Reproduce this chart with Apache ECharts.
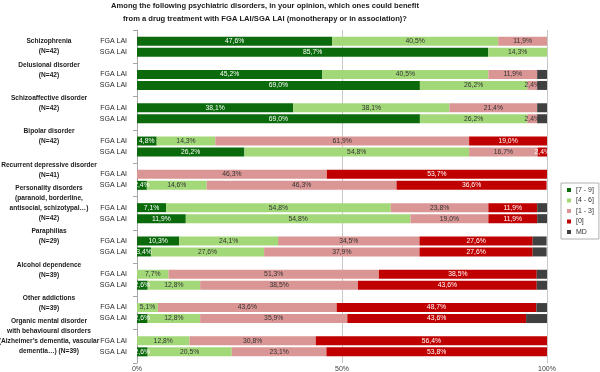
<!DOCTYPE html>
<html>
<head>
<meta charset="utf-8">
<script src="https://cdn.jsdelivr.net/npm/echarts@6/dist/echarts.min.js"></script>
<style>html,body{margin:0;padding:0;background:#fff}#c{width:600px;height:372px}</style>
</head>
<body>
<div id="c"></div>
<script>
const categories = [
  'Schizophrenia\n(N=42)',
  'Delusional disorder\n(N=42)',
  'Schizoaffective disorder\n(N=42)',
  'Bipolar disorder\n(N=42)',
  'Recurrent depressive disorder\n(N=41)',
  'Personality disorders\n(paranoid, borderline,\nantisocial, schizotypal…)\n(N=42)',
  'Paraphilias\n(N=29)',
  'Alcohol dependence\n(N=39)',
  'Other addictions\n(N=39)',
  'Organic mental disorder\nwith behavioural disorders\n(Alzheimer’s dementia, vascular\ndementia…) (N=39)'
];
const scoreClasses = ['[7 - 9]', '[4 - 6]', '[1 - 3]', '[0]', 'MD'];
const rowNames = ['FGA LAI', 'SGA LAI'];
const xTicks = [0, 50, 100];

const fga79 = [47.6, 45.2, 38.1, 4.8, 0, 7.1, 10.3, 0, 0, 0];
const fga46 = [40.5, 40.5, 38.1, 14.3, 0, 54.8, 24.1, 7.7, 5.1, 12.8];
const fga13 = [11.9, 11.9, 21.4, 61.9, 46.3, 23.8, 34.5, 51.3, 43.6, 30.8];
const fga0  = [0, 0, 0, 19.0, 53.7, 11.9, 27.6, 38.5, 48.7, 56.4];
const fgaMD = [0, 2.4, 2.4, 0, 0, 2.4, 3.4, 2.6, 2.6, 0];

const sga79 = [85.7, 69.0, 69.0, 26.2, 2.4, 11.9, 3.4, 2.6, 2.6, 2.6];
const sga46 = [14.3, 26.2, 26.2, 54.8, 14.6, 54.8, 27.6, 12.8, 12.8, 20.5];
const sga13 = [0, 2.4, 2.4, 16.7, 46.3, 19.0, 37.9, 38.5, 35.9, 23.1];
const sga0  = [0, 0, 0, 2.4, 36.6, 11.9, 27.6, 43.6, 43.6, 53.8];
const sgaMD = [0, 2.4, 2.4, 0, 0, 2.4, 3.4, 2.6, 5.1, 0];

const colors = ['#0b6a0b', '#a3d878', '#da9694', '#c00000', '#404040'];
const labelColors = ['#ffffff', '#333333', '#333333', '#ffffff', '#ffffff'];
const FONT = '"Liberation Sans", Arial, sans-serif';

function fmt(v) { return v ? v.toFixed(1).replace('.', ',') + '%' : ''; }

const series = [];
[['FGA', [fga79, fga46, fga13, fga0, fgaMD], rowNames[0]],
 ['SGA', [sga79, sga46, sga13, sga0, sgaMD], rowNames[1]]].forEach(([stack, arrs, rowName]) => {
  series.push({
    name: rowName, type: 'bar', stack: stack, barWidth: 9, barGap: '22%',
    data: categories.map(() => 0),
    itemStyle: { color: 'transparent' },
    label: { show: true, position: 'left', distance: 10, formatter: rowName,
             fontSize: 7, color: '#262626', fontFamily: FONT },
    silent: true
  });
  arrs.forEach((arr, i) => {
    series.push({
      name: scoreClasses[i], type: 'bar', stack: stack, barWidth: 9, barGap: '22%',
      data: arr,
      itemStyle: { color: colors[i] },
      label: {
        show: i < 4, position: 'inside', fontSize: 6.8, fontFamily: FONT,
        color: labelColors[i], formatter: p => fmt(p.value)
      }
    });
  });
});

const chart = echarts.init(document.getElementById('c'), null, { renderer: 'canvas' });
chart.setOption({
  animation: false,
  backgroundColor: '#ffffff',
  title: {
    text: 'Among the following psychiatric disorders, in your opinion, which ones could benefit\nfrom a drug treatment with FGA LAI/SGA LAI (monotherapy or in association)?',
    left: 265, top: 0, padding: 0, textAlign: 'center',
    textStyle: { fontSize: 7.6, fontWeight: 'bold', lineHeight: 12.4, color: '#1a1a1a', fontFamily: FONT }
  },
  legend: {
    data: scoreClasses, orient: 'vertical', left: 561, top: 183,
    padding: [3, 5, 3, 6], itemWidth: 4, itemHeight: 4, itemGap: 2.5, itemTextGap: 3,
    icon: 'rect', borderColor: '#b0b0b0', borderWidth: 1,
    textStyle: { fontSize: 7, lineHeight: 8, color: '#333', fontFamily: FONT }
  },
  grid: { left: 137, right: 53, top: 30, bottom: 9, containLabel: false, outerBoundsMode: 'none' },
  xAxis: {
    type: 'value', min: xTicks[0], max: xTicks[2], interval: 50,
    axisLabel: { formatter: '{value}%', fontSize: 7, color: '#404040', margin: 3, fontFamily: FONT },
    axisLine: { show: false }, axisTick: { show: false },
    splitLine: { show: true, lineStyle: { color: '#c8c8c8', width: 1 } }
  },
  yAxis: {
    type: 'category', inverse: true,
    data: categories,
    axisLabel: { align: 'center', margin: 88, fontSize: 6.6, fontWeight: 'bold', lineHeight: 10,
                 color: '#1a1a1a', fontFamily: FONT, interval: 0,
                 formatter: (v, i) => i === 0 ? v : v + '\n\n' },
    axisLine: { show: true, lineStyle: { color: '#a6a6a6' } },
    axisTick: { show: true, length: 4, lineStyle: { color: '#a6a6a6' } }
  },
  series: series
});
</script>
</body>
</html>
